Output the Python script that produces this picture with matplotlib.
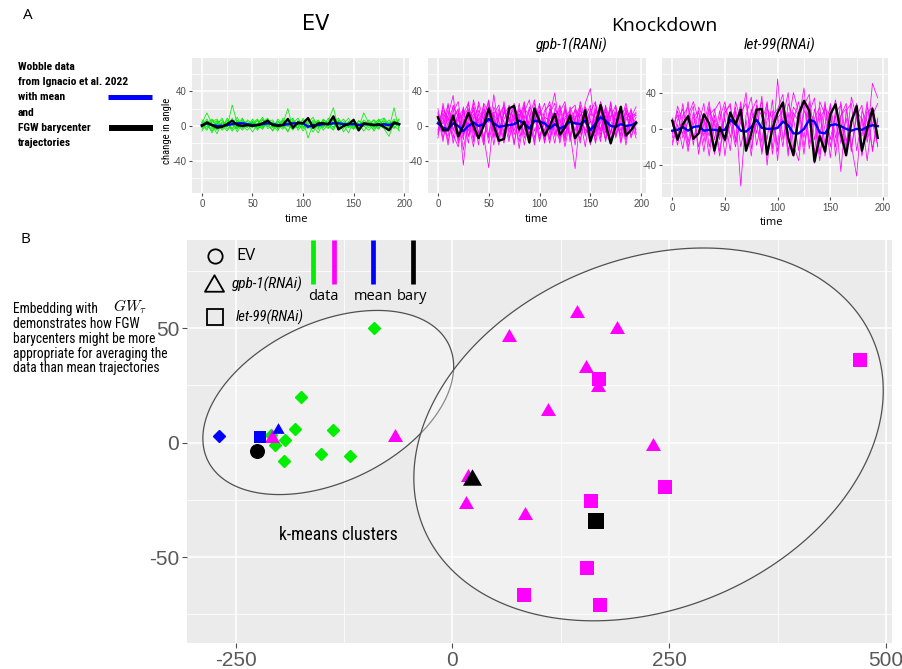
import matplotlib
matplotlib.use("Agg")
import matplotlib.pyplot as plt
from matplotlib import font_manager
from matplotlib.lines import Line2D
from matplotlib.patches import Polygon
from matplotlib.path import Path
import numpy as np

W, H = 902, 669

_fonts = font_manager.fontManager.ttflist
_names = {f.name for f in _fonts}


def pick_narrow():
    for name in ["Liberation Sans Narrow", "Roboto Condensed", "Open Sans Condensed",
                 "Noto Sans Condensed", "DejaVu Sans Condensed", "Arial Narrow"]:
        if name in _names:
            return name
    for f in _fonts:
        if "Condensed" in f.name or "Narrow" in f.name:
            return f.name
    return "Roboto" if "Roboto" in _names else "DejaVu Sans"


NARROW = pick_narrow()
SANS = "Open Sans" if "Open Sans" in _names else "DejaVu Sans"
ARIAL = "Liberation Sans" if "Liberation Sans" in _names else "DejaVu Sans"
plt.rcParams["mathtext.fontset"] = "cm"
plt.rcParams["axes.unicode_minus"] = False

# ---------------- trajectories (change in angle over time) ----------------
TIME = list(range(0, 200, 5))

EV_TRACES = [
    [3, 15, 2, -5, 4, -1, 9, -3, 5, 1, -2, 7, 0, 4, -6, 3, 6, 1, -4, 6, 0, -3, 7, 2, -1, 9, 3, -2, 5, 1, -4, 6, 2, 0, 7, -2, 3, 1, 6, -1],
    [-2, 4, -8, 3, 7, -1, 24, 3, -5, 2, 6, -3, 1, 8, -2, 5, 0, -6, 3, 9, -1, 2, -7, 5, 1, -3, 6, 2, 8, -2, 3, -5, 1, 7, 0, -4, 9, 2, -3, 5],
    [1, -5, 7, 0, -3, 9, 1, -2, 6, 3, -7, 2, 10, -1, 4, -3, 2, 20, -4, 1, 7, -14, 3, 0, -2, 6, 21, -3, 1, 5, -1, 3, -6, 2, 7, 1, -3, -12, 4, 2],
    [7, 2, -4, 6, 1, -6, 3, 10, -2, 0, 5, -3, 7, 1, -5, 8, 2, -1, 6, -3, 9, 0, 2, -4, 7, 3, -1, 5, -7, 2, 6, -2, 15, 3, -1, 5, 2, -3, 21, -6],
    [-4, 6, 1, -9, 5, 2, -3, 7, 0, -5, 3, 8, -2, 4, 1, -6, 9, 2, -3, 5, -2, 6, 0, -8, 4, 1, 7, -4, 2, 9, -3, 1, 5, -2, 3, 7, -1, 4, 0, -5],
    [2, -3, 5, 8, -2, 3, -6, 1, 9, -1, 4, 2, -4, 6, 3, -2, 5, -7, 8, 1, -3, 4, 10, -2, 5, 0, -5, 7, 3, -1, 8, -4, 2, 5, -6, 3, 1, 7, -2, 3],
    [5, 1, -6, 2, 9, -4, 3, 0, -3, 7, 2, -5, 4, 9, -1, 2, -4, 6, 1, -2, 5, 8, -3, 1, 6, -2, 3, 9, -1, 4, -3, 6, 0, -5, 2, 8, -1, 3, 5, 0],
    [-6, 3, 8, -1, 2, 5, -4, 6, 1, -2, 8, 0, -3, 5, 7, -4, 1, 3, -5, 6, 2, -1, 4, 6, -5, 2, 8, 1, -3, 5, 0, -6, 4, 3, -2, 6, 9, -4, 1, 7],
    [0, 8, -2, 4, -5, 1, 6, -7, 3, 5, -1, 2, 8, -3, 0, 6, -2, 4, 9, -5, 2, 1, -3, 7, 0, 4, -2, 5, 1, -8, 6, 2, -1, 4, 3, -3, 5, 0, 8, -2],
    [4, -1, 3, 6, -3, 7, 2, -4, 8, 0, 3, 6, -1, 2, 5, -3, 7, 0, 2, 4, -6, 3, 5, -1, 8, 2, -4, 6, 3, 0, 5, -2, 7, 1, -4, 3, 6, -1, 2, 8],
]
EV_MEAN = [1, 3, 1, 0, 0, 1, 2, 3, 3, 2, 1, 1, 2, 3, 2, 1, 1, 2, 3, 3,
           3, -1, 1, 1, 2, 2, 3, 3, 2, 2, 2, 1, 2, 2, 1, 1, 2, 1, 3, 2]
EV_BARY = [0, 4, 1, -2, -1, 2, 6, 1, 0, 1, 0, 1, 3, 6, 1, 0, 1, 8, -2, 4,
           3, 9, -2, 3, 3, 2, 11, -4, 0, 2, 7, -5, 3, 2, 1, 2, -1, -5, 4, 2]

GPB_TRACES = [
    [20, -8, 12, 35, -10, 18, -6, 22, -15, 10, 28, -12, 15, 5, -18, 24, 8, -10, 20, -14, 12, 26, -8, 14, -20, 10, 18, -6, 22, -12, 16, 28, -10, 8, 20, -14, 12, -6, 10, 22],
    [5, 15, -18, 8, 20, -45, 10, 18, -8, 25, -12, 36, -5, 14, 22, -10, 6, 28, -16, 12, -4, 18, 24, -12, 8, -18, 15, 4, -10, 26, 43, -8, 12, -15, 20, 6, -12, 15, 8, -4],
    [-6, 22, 4, -14, 16, 8, -20, 30, 6, -12, -48, 14, 24, -8, 10, -22, 18, 4, -12, 26, 8, -16, 12, 38, -6, 20, -14, 8, 24, -10, 6, -18, 28, 10, -8, 16, -20, 6, 18, -10],
    [12, -18, 26, -4, 8, 20, -12, 6, 24, -16, 14, 2, -22, 18, 10, -6, 26, -14, 4, 20, -18, 10, 6, -20, 16, 28, -8, -49, 12, 20, -10, 18, 4, -16, 26, -4, 14, 20, -12, 6],
    [-4, 10, -22, 16, 28, -10, 4, -24, 18, 8, 30, -14, 10, 22, -8, 14, -26, 12, 2, -18, 24, -6, 16, -10, 22, 4, -12, 20, 8, -24, 14, 10, -6, 24, -16, 2, 22, -8, 12, 0],
    [8, 2, 18, -20, 6, 14, 26, -8, -14, 20, 4, 16, -16, 28, -4, 8, 14, -22, 10, 30, -12, 6, -20, 12, 18, -14, 22, 6, -16, 10, 24, -20, 8, 16, -10, 22, -6, 18, -14, 4],
    [-10, 14, 6, 22, -16, 4, 18, 10, -22, 26, 16, -6, 20, -12, 24, 6, -18, 16, 30, -6, 10, -20, 14, 26, -12, 8, 14, -22, 18, 4, -14, 20, 12, -8, 28, -12, 6, 26, -2, 10],
    [14, -4, -12, 24, 10, -16, 28, -14, 8, 16, -20, 12, 6, -16, 22, 14, -8, 26, -18, 8, 16, 2, -14, 20, 10, -24, 6, 18, -8, 14, -22, 26, -4, 12, -20, 16, 8, -16, 20, -8],
    [2, 18, 10, -10, -24, 12, 20, -6, 14, -18, 22, 8, -10, 16, 4, 26, -12, -4, 22, 12, -16, 14, 28, -4, -16, 18, 6, 12, -20, 22, 8, -12, 18, -6, 10, 24, -18, 10, 4, 14],
    [-8, 6, 24, -6, 14, -28, 8, 26, -10, 4, 18, -22, 12, 24, -14, 2, 20, 10, -20, 16, 6, -12, 20, 8, -14, 24, -18, 10, 14, -6, 20, 4, -18, 22, 6, -10, 16, -22, 14, 12],
    [16, -14, 4, 12, -20, 22, -12, 14, 4, -22, 26, 10, -14, 8, 18, -20, 12, 22, -8, 4, 26, -18, 8, 14, 2, -14, 18, 24, -6, 12, -16, 8, 22, -18, 12, 8, -10, 22, 6, -14],
    [-14, 26, -6, 10, 18, -12, 14, -18, 28, 6, -14, 22, 4, -20, 16, 10, -6, 20, 12, -22, 18, 10, -16, 6, 24, -10, 12, -16, 28, 8, -6, 16, -14, 20, -8, 14, 18, -4, 8, 16],
]
GPB_MEAN = [3, -2, -4, 3, 0, -6, 0, 4, 0, 2, 8, 3, -1, 0, 1, 2, 6, 3, -3, 6,
            5, 3, -3, 2, -3, 0, 5, 3, 2, 6, -5, 3, 10, 6, 0, -1, 2, 0, 1, 3]
GPB_BARY = [10, -5, -5, 12, -12, 0, 15, 0, -14, 0, 20, 0, -17, -15, 20, 23, -4, 5, -19, 20,
            5, -11, 0, 14, -10, -2, 12, -14, -5, 18, -18, 0, 24, 2, -20, 0, 22, -11, -5, 4]

LET_TRACES = [
    [-15, 10, 22, -20, 5, 18, -8, 25, -28, 12, 30, -10, 20, -63, 15, 35, -18, 8, 28, -22, 55, -12, 18, -30, 10, 45, -16, 22, -8, 30, -20, 15, -47, 20, 28, -24, 12, -10, 50, 34],
    [8, -18, 15, 24, -12, 6, 28, -20, 10, -25, 18, 26, -15, 8, 40, -22, 12, 30, -40, 15, 22, 38, -25, 10, 30, -20, 18, 34, -28, 5, 25, -30, 14, 28, -18, -52, 20, 8, -22, 12],
    [-5, 20, -10, 8, 25, -28, 12, -8, 20, 30, -15, 5, 24, -20, 10, -30, 26, 14, -12, 32, -25, 12, 40, -18, -35, 20, 10, -26, 30, 15, -32, 22, 8, -20, 35, 12, -28, 24, 6, -18],
    [12, -8, 28, -15, 18, -20, 5, 30, -12, 20, -30, 15, 8, 25, -22, 18, 32, -28, 10, 20, -35, 28, 5, 40, 18, -10, 30, -38, 12, 22, 15, -20, 30, -14, 8, 28, -30, 18, 24, -6],
    [-18, 5, -22, 14, 30, 10, -25, 15, 22, -8, 12, -24, 30, 10, -18, 22, -5, 36, -30, 8, 14, -20, 28, 12, -24, 26, 38, -12, 18, -30, 10, 32, -16, 12, -25, 20, 10, -35, 15, 28],
    [3, 15, -6, 30, -18, 24, 10, -30, 15, -12, 25, 8, -20, 18, 28, -12, 6, -25, 22, 12, -18, 30, -8, 24, 15, -28, 20, 8, -35, 26, -12, 18, 26, -30, 12, 20, -8, 30, -25, 10],
    [-10, 25, 8, -25, 12, 20, -15, 22, 5, -30, 18, 28, -12, 30, -20, 10, 24, -15, 30, -28, 12, 20, -30, 18, 8, 30, -22, 12, 24, -18, 28, -10, 15, 22, -20, 14, 26, -15, 18, -20],
]
LET_MEAN = [-2, -1, 2, -2, 2, 3, -2, -1, -1, -2, -1, 10, 5, -2, -3, 2, 10, 1, 0, 0,
            1, 8, 4, -5, -5, 0, 10, 8, -4, -5, 4, 5, 3, 0, -2, 0, -1, 2, 4, 3]
LET_BARY = [9, -12, 5, 14, -11, -5, 16, 6, -24, 2, -12, 18, 5, 21, -24, -5, 21, 22, -28, 0,
            18, 29, -10, -29, 16, 31, 20, -36, -8, -25, 16, 27, -5, -29, 8, 25, -24, 0, 22, -10]

# ---------------- 2-D embedding ----------------
EV_X = [-90.7, -174.0, -180.9, -137.1, -193.2, -204.7, -209.7, -150.9, -118.3, -194.4]
EV_Y = [50.0, 19.8, 6.1, 5.7, 1.3, -0.9, 3.5, -4.8, -6.0, -8.2]
GPB_X = [-208.5, -65.7, 143.7, 190.1, 65.2, 154.4, 167.7, 109.8, 231.9, 17.8, 15.6, 83.3]
GPB_Y = [3.1, 3.4, 57.4, 50.4, 47.2, 33.4, 25.4, 14.9, -0.4, -14.0, -26.0, -30.9]
LET_X = [168.9, 469.6, 160.0, 245.0, 155.6, 82.8, 170.0]
LET_Y = [28.0, 36.0, -25.4, -19.6, -54.7, -66.6, -71.0]
MEAN_XY = {"EV": (-269.2, 2.75), "gpb-1": (-201.6, 6.4), "let-99": (-222.0, 2.5)}
BARY_XY = {"EV": (-225.8, -3.8), "gpb-1": (22.2, -15.0), "let-99": (165.6, -34.3)}

# cluster outlines: centre x, x half-extent, centre y, y half-extent, phase
CLUSTER_OUTLINES = [(-143.1, 144.6, 17.55, 40.25, 1.170),
                    (226.25, 270.65, 3.6, 81.5, 1.334)]

GREEN, MAGENTA, BLUE, BLACK = "#00EE00", "#FF00FF", "#0000FF", "#000000"
TRI = Path([(0.0, 0.433), (-0.5, -0.433), (0.5, -0.433), (0.0, 0.433)],
           [Path.MOVETO, Path.LINETO, Path.LINETO, Path.CLOSEPOLY])


def box(x0, y0, x1, y1):
    return [x0 / W, 1 - y1 / H, (x1 - x0) / W, (y1 - y0) / H]


def fx(x):
    return x / W


def fy(y):
    return 1 - y / H


fig = plt.figure(figsize=(W / 100, H / 100), dpi=100)
fig.patch.set_facecolor("white")
_renderer = fig.canvas.get_renderer()


def fit_size(s, width_px, **kw):
    """Font size at which string s spans width_px pixels."""
    probe = fig.text(0, 0, s, fontsize=10, **kw)
    w = probe.get_window_extent(_renderer).width
    probe.remove()
    return 10 * width_px / w


def ggstyle(ax, labelsize):
    ax.set_facecolor("#EBEBEB")
    ax.set_axisbelow(True)
    for s in ax.spines.values():
        s.set_visible(False)
    ax.grid(which="major", color="white", lw=1.1)
    ax.grid(which="minor", color="white", lw=0.55)
    ax.tick_params(which="major", length=2.5, width=0.8, color="#4D4D4D",
                   labelsize=labelsize, labelcolor="#4D4D4D", pad=1.5)
    ax.tick_params(which="minor", length=0)
    for lab in ax.get_xticklabels() + ax.get_yticklabels():
        lab.set_fontfamily(ARIAL)


def traj_panel(rect, traces, mean, bary, color, ylim):
    ax = fig.add_axes(box(*rect))
    for tr in traces:
        ax.plot(TIME, tr, color=color, lw=0.55, zorder=2)
    ax.plot(TIME, mean, color=BLUE, lw=1.7, zorder=3)
    ax.plot(TIME, bary, color=BLACK, lw=1.7, zorder=4)
    ax.set_xlim(-9.75, 204.75)
    ax.set_ylim(*ylim)
    ax.set_xticks([0, 50, 100, 150, 200])
    ax.set_xticks([25, 75, 125, 175], minor=True)
    ax.set_yticks([-40, 0, 40])
    ax.set_yticks([-60, -20, 20, 60], minor=True)
    ggstyle(ax, 7)
    return ax


traj_panel((192, 58, 409, 193), EV_TRACES, EV_MEAN, EV_BARY, GREEN, (-77, 78))
traj_panel((428, 58, 646, 193), GPB_TRACES, GPB_MEAN, GPB_BARY, MAGENTA, (-77, 78))
traj_panel((662, 58, 888, 197), LET_TRACES, LET_MEAN, LET_BARY, MAGENTA, (-75, 78))

# titles and axis labels of panel A
fig.text(fx(28), fy(15.5), "A", fontsize=11, family=SANS, ha="center", va="center")
fig.text(fx(316), fy(24), "EV", fontsize=15, family="DejaVu Sans", ha="center", va="center")
fig.text(fx(664.5), fy(26), "Knockdown", fontsize=14, family=SANS, ha="center", va="center")
sz = fit_size("gpb-1(RANi)", 72, family=NARROW, style="italic")
fig.text(fx(572), fy(45), "gpb-1(RANi)", fontsize=sz, family=NARROW, style="italic",
         ha="center", va="center")
fig.text(fx(780), fy(45), "let-99(RNAi)", fontsize=sz, family=NARROW, style="italic",
         ha="center", va="center")
for xc, yc in [(297, 219), (537, 220), (772, 222.5)]:
    fig.text(fx(xc), fy(yc), "time", fontsize=8, family=SANS, ha="center", va="center")
sz = fit_size("change in angle", 66, family=NARROW)
fig.text(fx(167.5), fy(131), "change in angle", fontsize=sz, family=NARROW, rotation=90,
         ha="center", va="center")

desc_a = ["Wobble data", "from Ignacio et al. 2022", "with mean", "and",
          "FGW barycenter", "trajectories"]
sz = fit_size(desc_a[1], 110, family=NARROW, weight="bold")
for i, line in enumerate(desc_a):
    fig.text(fx(18), fy(66.7 + 15.3 * i), line, fontsize=sz, family=NARROW,
             weight="bold", ha="left", va="center")
fig.add_artist(Line2D([fx(108), fx(152)], [fy(97.3), fy(97.3)], color=BLUE, lw=3.6,
                      solid_capstyle="butt", transform=fig.transFigure))
fig.add_artist(Line2D([fx(109), fx(153)], [fy(127.7), fy(127.7)], color=BLACK, lw=4.3,
                      solid_capstyle="butt", transform=fig.transFigure))

# ---------------- panel B ----------------
axb = fig.add_axes(box(187, 240, 892, 643))
axb.set_xlim(-306, 507)
axb.set_ylim(-87.6, 88.6)
axb.set_xticks([-250, 0, 250, 500])
axb.set_xticks([-125, 125, 375], minor=True)
axb.set_yticks([-50, 0, 50])
axb.set_yticks([-75, -25, 25, 75], minor=True)
ggstyle(axb, 15)
axb.tick_params(which="major", length=3.5, labelcolor="#595959", pad=2)

t = np.linspace(0, 2 * np.pi, 400)
for cx, a, cy, b, ph in CLUSTER_OUTLINES:
    pts = np.column_stack([cx + a * np.cos(t), cy + b * np.cos(t - ph)])
    axb.add_patch(Polygon(pts, closed=True, facecolor=(1, 1, 1, 0.33),
                          edgecolor="#505050", lw=0.9, zorder=1.5))

axb.plot(EV_X, EV_Y, ls="none", marker="D", ms=5.8, color=GREEN, mec=GREEN, zorder=3)
axb.plot(GPB_X, GPB_Y, ls="none", marker=TRI, ms=10.8, color=MAGENTA, mew=0, zorder=3)
axb.plot(LET_X, LET_Y, ls="none", marker="s", ms=9.5, color=MAGENTA, mew=0, zorder=3)

axb.plot(*MEAN_XY["EV"], marker="D", ms=5.9, color=BLUE, ls="none", zorder=4)
axb.plot(*MEAN_XY["let-99"], marker="s", ms=8.2, color=BLUE, mew=0, ls="none", zorder=4)
axb.plot(*MEAN_XY["gpb-1"], marker=TRI, ms=8.9, color=BLUE, mew=0, ls="none", zorder=4)

axb.plot(*BARY_XY["EV"], marker="o", ms=10.8, color=BLACK, mew=0, ls="none", zorder=5)
axb.plot(*BARY_XY["gpb-1"], marker=TRI, ms=13.7, color=BLACK, mew=0, ls="none", zorder=5)
axb.plot(*BARY_XY["let-99"], marker="s", ms=11.5, color=BLACK, mew=0, ls="none", zorder=5)

sz = fit_size("k-means clusters", 118, family=NARROW)
axb.text(-131, -40.5, "k-means clusters", fontsize=sz, family=NARROW,
         ha="center", va="center", zorder=6)

# shape / colour key drawn over the embedding
for (mx, my, mk, ms) in [(215.3, 256, "o", 10.3), (214, 283, TRI, 13.7), (214.7, 317.3, "s", 12.0)]:
    fig.add_artist(Line2D([fx(mx)], [fy(my)], marker=mk, ms=ms, mfc="none", mec="black",
                          mew=1.3, ls="none", transform=fig.transFigure))
fig.text(fx(236), fy(256), "EV", fontsize=12, family=SANS, ha="left", va="center")
sz = fit_size("gpb-1(RNAi)", 71, family=NARROW, style="italic")
fig.text(fx(232), fy(284), "gpb-1(RNAi)", fontsize=sz, family=NARROW, style="italic",
         ha="left", va="center")
fig.text(fx(235.3), fy(317.3), "let-99(RNAi)", fontsize=sz * 0.95, family=NARROW,
         style="italic", ha="left", va="center")
for bx, col in [(312.7, GREEN), (333.7, MAGENTA), (372.7, BLUE), (412.7, BLACK)]:
    fig.add_artist(Line2D([fx(bx), fx(bx)], [fy(240), fy(284)], color=col, lw=3.4,
                          solid_capstyle="butt", transform=fig.transFigure))
for tx, lab in [(323.3, "data"), (372.7, "mean"), (412, "bary")]:
    fig.text(fx(tx), fy(300), lab, fontsize=10.5, family=SANS, ha="center", va="baseline")

fig.text(fx(25), fy(240), "B", fontsize=11, family=SANS, ha="center", va="center")
desc_b = ["demonstrates how FGW", "barycenters might be more",
          "appropriate for averaging the", "data than mean trajectories"]
sz = fit_size(desc_b[2], 154, family=NARROW)
fig.text(fx(13), fy(309.3), "Embedding with", fontsize=sz, family=NARROW,
         ha="left", va="center")
fig.text(fx(113), fy(307), r"$GW_\tau$", fontsize=11, ha="left", va="center")
for i, line in enumerate(desc_b):
    fig.text(fx(13), fy(324.3 + 14.6 * i), line, fontsize=sz, family=NARROW,
             ha="left", va="center")

fig.savefig("out.png", dpi=100)
